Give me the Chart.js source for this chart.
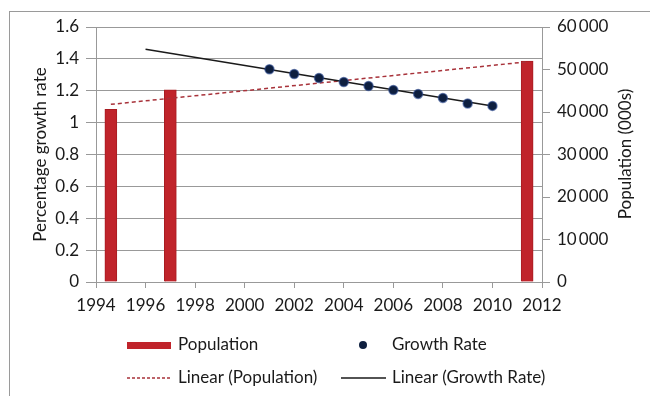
<!DOCTYPE html>
<html>
<head>
<meta charset="utf-8">
<script src="https://cdn.jsdelivr.net/npm/chart.js@4"></script>
<style>
  html, body { margin: 0; padding: 0; background: #fff; }
  #wrap { position: relative; width: 650px; height: 396px; overflow: hidden; }
  #frame { position: absolute; left: 9px; top: 11px; width: 700px; height: 500px; border: 1px solid #9a9a9a; }
  #graph { position: absolute; left: 0; top: 0; }
</style>
</head>
<body>
<div id="wrap">
  <div id="frame"></div>
  <canvas id="graph" width="650" height="396"></canvas>
</div>
<script>
// values
var popYears = [1994.6, 1997, 2011.4];
var popValues = [40600, 45200, 52000];
var rateYears = [2001, 2002, 2003, 2004, 2005, 2006, 2007, 2008, 2009, 2010];
var rateValues = [1.335, 1.305, 1.28, 1.255, 1.23, 1.205, 1.18, 1.155, 1.12, 1.105];
var popTrendYears = [1994.6, 2011.4];
var popTrendValues = [41800, 51800];
var rateTrendYears = [1996, 2010];
var rateTrendValues = [1.46, 1.105];

var FONT = "Lato, 'Open Sans', sans-serif";
var SIZE = 17;
var TEXT = "#1a1a1a";
var GRID = "#999999";

function pts(xs, ys) {
  return xs.map(function (x, i) { return { x: x, y: ys[i] }; });
}

// legend + right title drawn by hand so they sit like the original
var extras = {
  id: "extras",
  afterDraw: function (chart) {
    var ctx = chart.ctx;
    ctx.save();
    ctx.font = SIZE + "px " + FONT;
    ctx.fillStyle = TEXT;
    ctx.textBaseline = "middle";
    ctx.textAlign = "left";

    // right axis title, reads bottom to top
    ctx.save();
    ctx.translate(626, 154);
    ctx.rotate(-Math.PI / 2);
    ctx.textAlign = "center";
    ctx.fillText("Population (000s)", 0, 0);
    ctx.restore();

    // legend row 1
    ctx.fillStyle = "#c0242b";
    ctx.fillRect(127, 342, 44, 7);
    ctx.fillStyle = TEXT;
    ctx.fillText("Population", 178, 345);
    ctx.fillStyle = "#0e1f3f";
    ctx.beginPath();
    ctx.arc(363, 345, 4, 0, Math.PI * 2);
    ctx.fill();
    ctx.fillStyle = TEXT;
    ctx.fillText("Growth Rate", 392, 345);

    // legend row 2
    ctx.strokeStyle = "#a8323a";
    ctx.lineWidth = 1.5;
    ctx.setLineDash([3, 2]);
    ctx.beginPath();
    ctx.moveTo(127, 378);
    ctx.lineTo(171, 378);
    ctx.stroke();
    ctx.setLineDash([]);
    ctx.fillText("Linear (Population)", 178, 378);
    ctx.strokeStyle = "#1a1a1a";
    ctx.beginPath();
    ctx.moveTo(341, 378);
    ctx.lineTo(386, 378);
    ctx.stroke();
    ctx.fillText("Linear (Growth Rate)", 392, 378);
    ctx.restore();
  }
};

var config = {
  type: "bar",
  data: {
    datasets: [{
      label: "Population",
      data: pts(popYears, popValues),
      yAxisID: "y2",
      backgroundColor: "#c0242b",
      borderColor: "#a81c22",
      borderWidth: 1,
      barThickness: 12,
      order: 4
    }, {
      type: "line",
      label: "Growth Rate",
      data: pts(rateYears, rateValues),
      yAxisID: "y",
      showLine: false,
      pointRadius: 4.5,
      pointBackgroundColor: "#0e1f3f",
      pointBorderColor: "rgba(40,70,140,0.6)",
      pointBorderWidth: 1.5,
      order: 1
    }, {
      type: "line",
      label: "Linear (Population)",
      data: pts(popTrendYears, popTrendValues),
      yAxisID: "y2",
      borderColor: "#a8323a",
      borderWidth: 1.5,
      borderDash: [4, 3],
      pointRadius: 0,
      order: 3
    }, {
      type: "line",
      label: "Linear (Growth Rate)",
      data: pts(rateTrendYears, rateTrendValues),
      yAxisID: "y",
      borderColor: "#1a1a1a",
      borderWidth: 1.5,
      pointRadius: 0,
      order: 2
    }]
  },
  options: {
    responsive: false,
    animation: false,
    layout: { padding: { top: 27, left: 0, right: 0, bottom: 0 } },
    plugins: { legend: { display: false }, tooltip: { enabled: false } },
    scales: {
      x: {
        type: "linear",
        offset: false,
        min: 1994,
        max: 2012,
        ticks: { stepSize: 2, padding: 7, maxRotation: 0, color: TEXT, font: { family: FONT, size: SIZE },
          callback: function (v) { return String(v); } },
        grid: { drawOnChartArea: false, offset: false, tickLength: 6, color: GRID },
        border: { color: GRID },
        afterFit: function (s) { s.height = 114; }
      },
      y: {
        position: "left",
        min: 0,
        max: 1.6,
        ticks: { stepSize: 0.2, padding: 7, color: TEXT, font: { family: FONT, size: SIZE },
          callback: function (v) { return Math.round(v * 10) / 10; } },
        grid: { color: GRID, tickLength: 10 },
        border: { color: GRID },
        title: { display: true, text: "Percentage growth rate", color: TEXT,
          font: { family: FONT, size: SIZE }, padding: { top: 30 } },
        afterFit: function (s) { s.width = 96; }
      },
      y2: {
        position: "right",
        min: 0,
        max: 60000,
        ticks: { stepSize: 10000, padding: 7, color: TEXT, font: { family: FONT, size: SIZE },
          callback: function (v) { return v === 0 ? "0" : (v / 1000) + "\u2009000"; } },
        grid: { drawOnChartArea: false, tickLength: 8, color: GRID },
        border: { color: GRID },
        afterFit: function (s) { s.width = 108; }
      }
    }
  },
  plugins: [extras]
};

new Chart(document.getElementById("graph"), config);
</script>
</body>
</html>
